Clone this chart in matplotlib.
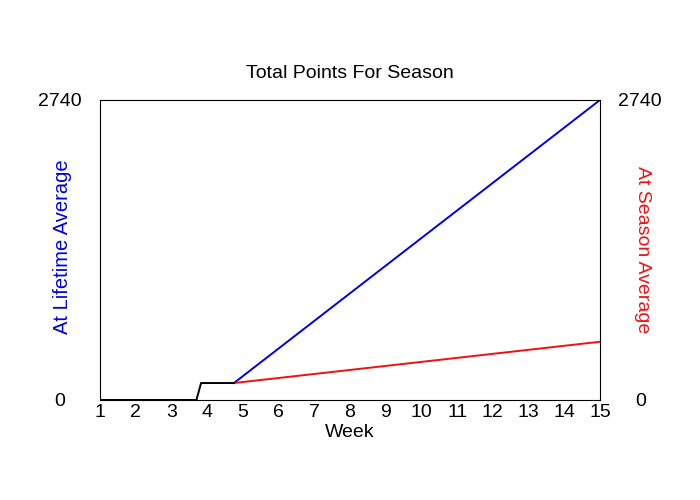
import matplotlib
matplotlib.use("Agg")
import matplotlib.pyplot as plt

plt.rcParams["font.family"] = ["Liberation Sans", "DejaVu Sans"]

weeks = list(range(1, 16))
y_max = 2740

# actual points so far (black)
actual_x = [1, 3.7, 3.83, 4.75]
actual_y = [0, 0, 155, 155]

# projection at lifetime average (blue)
lifetime_x = [4.75, 15]
lifetime_y = [155, 2740]

# projection at season average (red)
season_x = [4.75, 15]
season_y = [155, 532]

fig = plt.figure(figsize=(7, 5), dpi=100)
ax = fig.add_axes([100 / 700, 0.2, 500 / 700, 0.6])

ax.plot(lifetime_x, lifetime_y, color="#0000dd", lw=1.4)
ax.plot(season_x, season_y, color="#ee1111", lw=1.4)
ax.plot(actual_x, actual_y, color="black", lw=1.4)

ax.set_xlim(1, 15)
ax.set_ylim(0, y_max)
ax.set_xticks(weeks)
ax.set_yticks([0, y_max])
ax.tick_params(axis="x", length=0, pad=3, labelsize=14)
ax.tick_params(axis="y", length=0, pad=29, labelsize=14, labelright=True)
for t in ax.yaxis.get_major_ticks():
    t.label1.set_ha("center")
    t.label2.set_ha("center")

ax.set_xlabel("Week", fontsize=14, labelpad=2)
ax.set_title("Total Points For Season", fontsize=14, pad=16)

ax.text(-0.076, 0.51, "At Lifetime Average", color="#0000dd", fontsize=14.5,
        rotation=90, ha="center", va="center", transform=ax.transAxes)
ax.text(1.084, 0.5, "At Season Average", color="#ee1111", fontsize=14,
        rotation=270, ha="center", va="center", transform=ax.transAxes)

fig.savefig("out.png", dpi=100)
